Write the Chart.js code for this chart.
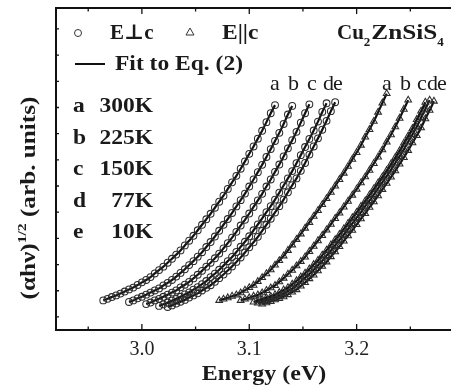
<!DOCTYPE html>
<html><head><meta charset="utf-8">
<script src="https://cdn.jsdelivr.net/npm/chart.js@4.4.0/dist/chart.umd.min.js"></script>
<style>html,body{margin:0;padding:0;overflow:hidden;background:#fff;width:451px;height:389px}canvas{display:block}</style>
</head><body>
<canvas id="c" width="472" height="389"></canvas>
<script>
// Photon energy grid (eV) shared by all spectra
const energy = [2.964,2.968,2.972,2.976,2.980,2.984,2.988,2.992,2.996,3.000,
3.004,3.008,3.012,3.016,3.020,3.024,3.028,3.032,3.036,3.040,
3.044,3.048,3.052,3.056,3.060,3.064,3.068,3.072,3.076,3.080,
3.084,3.088,3.092,3.096,3.100,3.104,3.108,3.112,3.116,3.120,
3.124,3.128,3.132,3.136,3.140,3.144,3.148,3.152,3.156,3.160,
3.164,3.168,3.172,3.176,3.180,3.184,3.188,3.192,3.196,3.200,
3.204,3.208,3.212,3.216,3.220,3.224,3.228,3.232,3.236,3.240,
3.244,3.248,3.252,3.256,3.260,3.264,3.268,3.272];

// First energy of each spectrum (a..e)
const perpStart = [2.964, 2.988, 3.004, 3.016, 3.024];
const paraStart = [3.072, 3.092, 3.104, 3.108, 3.112];

// (alpha h nu)^1/2, arb. units — E perpendicular c
const perpA = [0.63,0.69,0.76,0.82,0.89,0.97,1.05,1.12,1.22,1.32,1.41,1.52,1.66,1.79,1.92,2.07,2.22,2.38,2.54,2.73,2.91,3.10,3.31,3.52,3.73,3.94,4.17,4.40,4.63,4.89,5.14,5.39,5.66,5.94,6.23,6.51,6.81,7.11,7.44,7.78,8.09];
const perpB = [0.57,0.63,0.71,0.77,0.85,0.93,1.01,1.09,1.20,1.30,1.41,1.54,1.68,1.82,1.98,2.13,2.30,2.47,2.67,2.86,3.07,3.29,3.52,3.74,3.97,4.22,4.46,4.71,4.98,5.25,5.53,5.81,6.11,6.41,6.72,7.03,7.37,7.73,8.06];
const perpC = [0.49,0.55,0.63,0.69,0.77,0.85,0.93,1.01,1.13,1.23,1.34,1.47,1.61,1.76,1.92,2.07,2.24,2.42,2.62,2.82,3.03,3.25,3.49,3.71,3.95,4.20,4.45,4.70,4.98,5.25,5.54,5.82,6.13,6.44,6.75,7.07,7.42,7.78,8.12];
const perpD = [0.42,0.48,0.55,0.62,0.69,0.77,0.86,0.94,1.04,1.14,1.25,1.37,1.52,1.65,1.80,1.96,2.13,2.29,2.48,2.68,2.87,3.08,3.31,3.53,3.76,4.00,4.23,4.48,4.75,5.02,5.29,5.57,5.87,6.18,6.49,6.80,7.12,7.46,7.83,8.16];
const perpE = [0.38,0.44,0.51,0.58,0.65,0.74,0.82,0.90,1.01,1.11,1.21,1.34,1.48,1.62,1.77,1.93,2.10,2.27,2.46,2.66,2.85,3.06,3.29,3.52,3.75,3.99,4.23,4.48,4.76,5.03,5.29,5.58,5.88,6.20,6.51,6.82,7.15,7.49,7.86,8.20];

// E parallel c
const paraA = [0.63,0.68,0.73,0.79,0.84,0.92,1.02,1.12,1.21,1.35,1.50,1.65,1.80,1.98,2.15,2.33,2.54,2.75,2.96,3.17,3.39,3.61,3.84,4.06,4.29,4.52,4.76,5.00,5.25,5.49,5.75,6.02,6.28,6.56,6.87,7.16,7.47,7.82,8.17,8.53];
const paraB = [0.63,0.68,0.73,0.79,0.84,0.92,1.01,1.11,1.20,1.34,1.48,1.63,1.78,1.95,2.12,2.29,2.50,2.70,2.91,3.11,3.32,3.54,3.76,3.97,4.20,4.42,4.65,4.88,5.12,5.35,5.60,5.86,6.11,6.38,6.68,6.96,7.26,7.59,7.93,8.28];
const paraC = [0.57,0.62,0.67,0.73,0.78,0.85,0.93,1.03,1.12,1.25,1.38,1.53,1.67,1.83,2.00,2.16,2.36,2.55,2.75,2.95,3.15,3.36,3.57,3.79,3.99,4.22,4.43,4.66,4.89,5.12,5.35,5.59,5.84,6.09,6.35,6.64,6.91,7.20,7.54,7.86,8.20];
const paraD = [0.53,0.58,0.63,0.69,0.74,0.81,0.89,0.99,1.08,1.22,1.35,1.50,1.64,1.80,1.97,2.14,2.34,2.53,2.73,2.94,3.14,3.35,3.57,3.79,3.99,4.23,4.44,4.67,4.91,5.14,5.38,5.62,5.88,6.13,6.40,6.69,6.97,7.26,7.61,7.93,8.28];
const paraE = [0.49,0.54,0.59,0.65,0.70,0.77,0.85,0.95,1.04,1.18,1.31,1.46,1.60,1.76,1.93,2.10,2.30,2.49,2.69,2.90,3.10,3.31,3.53,3.75,3.95,4.19,4.40,4.63,4.87,5.10,5.34,5.58,5.84,6.09,6.36,6.65,6.93,7.22,7.57,7.89,8.24];

const curveLetters = ['a','b','c','d','e'];
const temperatures = ['300K','225K','150K','77K','10K'];
const xMajorTicks = [3.0, 3.1, 3.2];
const xTickLabels = ['3.0','3.1','3.2'];
const xMinorTicks = [2.95, 3.05, 3.15, 3.25];
const yTicks = [0,1,2,3,4,5,6,7,8,9,10,11];

const SERIF = '"Liberation Serif","DejaVu Serif",serif';

function toPoints(start, vals) {
  const i0 = energy.findIndex(e => Math.abs(e - start) < 1e-9);
  return vals.map((v, i) => ({x: energy[i0 + i], y: v}));
}
const perpSeries = [perpA, perpB, perpC, perpD, perpE];
const paraSeries = [paraA, paraB, paraC, paraD, paraE];
const datasets = [];
perpSeries.forEach((s, i) => datasets.push({
  label: 'E\u22A5c ' + curveLetters[i], data: toPoints(perpStart[i], s),
  showLine: true, borderColor: '#111', borderWidth: 2.2, tension: 0.2,
  pointStyle: 'circle', pointRadius: 3.4, pointBorderColor: '#2c2c2c', pointBorderWidth: 1.05,
  pointBackgroundColor: 'rgba(255,255,255,0)'
}));
paraSeries.forEach((s, i) => datasets.push({
  label: 'E||c ' + curveLetters[i], data: toPoints(paraStart[i], s),
  showLine: true, borderColor: '#111', borderWidth: 2.2, tension: 0.2,
  pointStyle: 'triangle', pointRadius: 3.9, pointBorderColor: '#2c2c2c', pointBorderWidth: 1.05,
  pointBackgroundColor: 'rgba(255,255,255,0)'
}));

function txt(ctx, s, x, y, font, sx, align) {
  ctx.save();
  ctx.font = font;
  ctx.fillStyle = '#1a1a1a';
  ctx.textBaseline = 'alphabetic';
  ctx.textAlign = align || 'left';
  ctx.translate(x, y);
  ctx.scale(sx || 1, 1);
  ctx.fillText(s, 0, 0);
  ctx.restore();
}
function w(ctx, s, font, sx) { ctx.save(); ctx.font = font; const m = ctx.measureText(s).width * (sx || 1); ctx.restore(); return m; }

const decor = {
  id: 'decor',
  afterDraw(chart) {
    const ctx = chart.ctx, a = chart.chartArea;
    const xs = chart.scales.x, ys = chart.scales.y;
    ctx.save();
    ctx.strokeStyle = '#111';
    ctx.lineWidth = 2;
    ctx.strokeRect(a.left, a.top, a.right - a.left, a.bottom - a.top);
    ctx.lineWidth = 1.3;
    ctx.beginPath();
    xMajorTicks.forEach(v => { const p = xs.getPixelForValue(v);
      ctx.moveTo(p, a.bottom); ctx.lineTo(p, a.bottom - 6);
      ctx.moveTo(p, a.top); ctx.lineTo(p, a.top + 6); });
    xMinorTicks.forEach(v => { const p = xs.getPixelForValue(v);
      ctx.moveTo(p, a.bottom); ctx.lineTo(p, a.bottom - 3.5);
      ctx.moveTo(p, a.top); ctx.lineTo(p, a.top + 3.5); });
    yTicks.forEach(v => { const p = ys.getPixelForValue(v);
      ctx.moveTo(a.left, p); ctx.lineTo(a.left + 3, p); });
    ctx.stroke();

    const B = 'bold 21px ' + SERIF, SX = 1.12;
    // legend symbols
    ctx.lineWidth = 1; ctx.strokeStyle = '#333';
    ctx.beginPath(); ctx.arc(78, 33, 3.5, 0, Math.PI * 2); ctx.stroke();
    ctx.beginPath(); ctx.moveTo(190, 28); ctx.lineTo(194, 35); ctx.lineTo(186, 35); ctx.closePath(); ctx.stroke();
    ctx.lineWidth = 2; ctx.strokeStyle = '#111';
    ctx.beginPath(); ctx.moveTo(75, 64); ctx.lineTo(105, 64); ctx.stroke();
    txt(ctx, 'E\u22A5c', 110, 39, B, 1.0);
    txt(ctx, 'E||c', 222, 39, B, SX);
    // Cu2ZnSiS4 with subscripts
    const S = 'bold 13px ' + SERIF;
    let x = 337;
    txt(ctx, 'Cu', x, 39, B, 1.0); x += w(ctx, 'Cu', B, 1.0);
    txt(ctx, '2', x, 46, S, 1.0); x += w(ctx, '2', S, 1.0) + 1;
    txt(ctx, 'ZnSiS', x, 39, B, 1.2); x += w(ctx, 'ZnSiS', B, 1.2);
    txt(ctx, '4', x, 46, S, 1.0);
    txt(ctx, 'Fit to Eq. (2)', 115, 70, B, SX);
    const rows = [112, 143.5, 175, 206.5, 238];
    rows.forEach((yy, i) => {
      txt(ctx, curveLetters[i], 73, yy, B, SX);
      txt(ctx, temperatures[i], 153, yy, B, SX, 'right');
    });
    // curve labels
    const R = '21px ' + SERIF;
    const perpLabX = [270, 288, 307, 323, 333];
    const paraLabX = [382, 400, 417, 427, 437];
    curveLetters.forEach((l, i) => { txt(ctx, l, perpLabX[i], 90, R, 1.05); txt(ctx, l, paraLabX[i], 90, R, 1.05); });
    // axis titles
    txt(ctx, 'Energy (eV)', 264, 380, 'bold 22px ' + SERIF, 1.09, 'center');
    ctx.save();
    ctx.translate(35, 198);
    ctx.rotate(-Math.PI / 2);
    const YF = 'bold 21px ' + SERIF, YS = 'bold 13px ' + SERIF, ysx = 1.2;
    const p1 = '(\u03B1h\u03BD)', p2 = '1/2', p3 = ' (arb. units)';
    const tot = w(ctx, p1, YF, ysx) + w(ctx, p2, YS, ysx) + w(ctx, p3, YF, ysx);
    let t = -tot / 2;
    txt(ctx, p1, t, 0, YF, ysx); t += w(ctx, p1, YF, ysx);
    txt(ctx, p2, t, -9, YS, ysx); t += w(ctx, p2, YS, ysx);
    txt(ctx, p3, t, 0, YF, ysx);
    ctx.restore();
    ctx.restore();
  }
};

new Chart(document.getElementById('c'), {
  type: 'scatter',
  data: { datasets },
  options: {
    responsive: false, animation: false, devicePixelRatio: 1,
    layout: { padding: { left: 56, right: 6, top: 8, bottom: 0 } },
    plugins: { legend: { display: false }, tooltip: { enabled: false } },
    scales: {
      x: {
        type: 'linear', min: 2.92, max: 3.30,
        grid: { display: false, drawTicks: false }, border: { display: false },
        afterFit: s => { s.height = 59; },
        ticks: {
          stepSize: 0.05, autoSkip: false, maxRotation: 0, padding: 8,
          color: '#222', font: { family: SERIF, size: 20 },
          callback: v => { const i = xMajorTicks.findIndex(m => Math.abs(m - v) < 1e-6); return i >= 0 ? xTickLabels[i] : ''; }
        }
      },
      y: { type: 'linear', min: -0.5, max: 11.8, display: false }
    }
  },
  plugins: [decor]
});
</script>
</body></html>
